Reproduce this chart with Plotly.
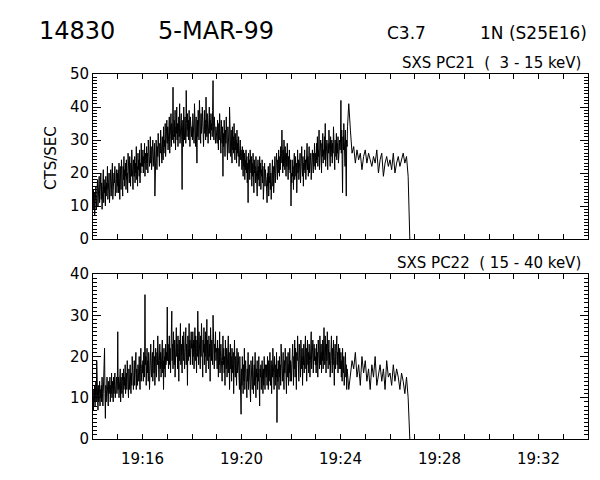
import numpy as np
import pandas as pd
import plotly.graph_objects as go
from plotly.subplots import make_subplots

# ---------------- data ----------------
dense_start = "1999-03-05 19:14:00"   # 1 s cadence
sparse_start = "1999-03-05 19:24:20"  # 4 s cadence
dense_step_s = 1
sparse_step_s = 4

# SXS PC21 (3-15 keV), counts/s, one list per minute of the dense part
pc21_m0 = [11,15,9,14,7,13,10,16,9,15,12,18,10,17,13,19,11,16,14,20,
           12,17,9,15,13,21,11,18,14,16,10,19,13,17,15,22,12,18,14,20,
           11,17,15,21,13,19,16,23,12,18,15,20,17,22,13,19,16,21,14,20]
pc21_m1 = [16,21,14,23,18,12,22,19,15,24,17,20,13,22,18,25,16,21,19,23,
           15,24,18,20,14,26,19,22,17,25,20,16,23,19,27,18,22,15,24,21,
           19,25,17,23,20,28,18,22,16,26,21,24,19,27,17,23,20,29,22,25]
pc21_m2 = [22,27,20,25,23,29,19,26,24,21,28,23,26,20,30,24,27,22,25,31,
           23,28,21,26,24,30,22,27,25,29,13,26,23,30,27,21,28,25,32,24,
           27,22,29,26,33,25,28,23,31,27,24,34,26,30,28,35,25,31,29,36]
pc21_m3 = [29,34,27,32,30,37,26,33,31,38,28,35,30,33,46,32,29,36,31,39,
           27,34,32,40,30,35,28,33,37,31,41,29,34,32,38,30,15,33,36,28,
           40,33,30,37,34,29,45,35,31,38,33,36,30,39,34,28,37,32,35,31]
pc21_m4 = [34,30,38,33,36,29,41,32,35,28,37,33,23,36,31,39,34,30,42,33,
           36,29,38,32,35,40,31,37,28,34,39,32,36,30,43,35,31,38,33,29,
           37,34,40,32,36,30,38,33,35,31,39,48,34,30,37,32,36,29,34,31]
pc21_m5 = [33,29,36,31,27,35,30,38,28,33,26,36,31,29,34,19,32,28,36,30,
           25,33,29,37,27,31,24,34,29,32,26,40,28,31,25,33,30,23,34,27,
           31,26,35,28,24,32,27,30,23,33,26,29,25,31,22,28,26,30,24,27]
pc21_m6 = [25,21,28,23,19,27,22,26,18,24,21,27,20,25,17,23,11,26,21,24,
           18,27,22,20,25,16,23,19,26,21,14,24,20,22,17,25,19,23,13,21,
           24,18,22,16,25,20,23,15,21,19,24,17,22,12,20,18,23,16,21,19]
pc21_m7 = [18,14,11,20,16,22,13,19,17,23,15,20,12,21,18,24,16,22,14,19,
           20,25,17,23,19,26,21,18,24,20,27,22,19,25,21,28,23,26,33,24,
           20,27,22,30,25,21,28,23,19,26,22,29,24,18,25,21,27,23,20,24]
pc21_m8 = [10,20,17,24,19,22,15,23,26,18,21,25,19,23,14,22,27,20,24,18,
           23,21,26,17,24,20,28,22,19,25,16,23,21,27,20,24,18,26,22,29,
           21,25,19,23,28,20,24,22,26,18,25,21,27,23,20,26,22,29,24,21]
pc21_m9 = [26,23,29,24,31,22,27,25,33,21,28,24,30,26,20,29,25,32,23,27,
           26,31,24,35,22,28,25,30,27,21,29,26,33,24,28,22,31,25,27,30,
           23,29,26,34,24,28,21,30,27,25,32,24,29,26,31,23,28,25,30,27]
pc21_m10 = [30,42,26,33,24,14,31,27,35,25,29,22,33,26,13,30,28,34]
pc21_sparse = [41,33,26,28,23,27,24,26,21,25,27,23,26,24,22,25,23,27,20,24,
               26,19,23,25,22,24,21,26,20,23,25,22,24,26,23,25,19,0]

# SXS PC22 (15-40 keV)
pc22_m0 = [10,7,12,9,13,8,11,14,9,19,10,12,7,13,9,11,14,8,12,10,
           13,9,15,11,8,12,10,14,22,11,5,13,9,12,15,10,13,8,14,11,
           12,15,9,13,11,16,10,14,12,9,15,11,13,16,10,14,12,15,11,13]
pc22_m1 = [26,12,15,10,14,12,17,9,15,13,11,16,14,10,17,12,15,13,18,11,
           14,16,12,19,13,15,10,17,14,12,18,15,11,16,13,20,14,17,12,15,
           19,13,16,14,21,12,17,15,13,18,16,14,20,15,12,17,22,14,16,18]
pc22_m2 = [16,19,14,21,17,15,35,18,20,13,17,22,16,19,14,21,18,12,20,16,
           23,17,15,19,21,14,18,24,16,20,13,19,22,17,15,21,18,25,16,20,
           14,19,23,17,21,15,20,18,24,16,19,12,22,17,20,15,23,18,21,19]
pc22_m3 = [32,19,23,17,21,25,18,22,16,24,20,31,19,23,17,26,21,18,24,15,
           22,19,27,20,23,17,25,21,14,24,19,22,28,18,23,20,16,25,21,19,
           26,22,17,24,20,27,18,23,21,13,25,19,22,28,20,24,18,21,26,22]
pc22_m4 = [23,18,26,20,24,17,22,27,19,25,21,16,24,20,31,22,18,26,21,23,
           17,25,20,28,19,22,15,24,21,27,18,23,20,26,16,22,29,19,24,21,
           17,25,20,23,14,27,21,19,24,22,18,30,20,25,17,23,21,26,19,22]
pc22_m5 = [21,17,24,19,15,22,18,26,16,20,23,17,21,14,19,25,18,22,16,20,
           13,24,19,17,22,15,20,18,25,16,21,12,19,23,17,20,14,22,18,16,
           21,11,19,24,17,15,20,18,13,22,16,19,21,15,18,12,20,17,14,6]
pc22_m6 = [17,13,20,15,11,18,14,22,12,16,19,13,15,10,17,14,21,12,16,18,
           13,15,9,19,14,17,12,20,15,11,16,18,13,21,14,10,17,15,19,12,
           16,14,20,13,8,17,15,18,12,16,19,14,11,17,13,20,15,12,18,16]
pc22_m7 = [15,18,13,20,16,12,19,14,17,21,13,16,19,11,18,15,22,14,17,12,
           20,16,13,18,15,21,4,17,14,19,16,12,20,15,18,13,23,16,19,14,
           17,21,15,12,19,16,22,14,18,11,20,17,15,21,13,18,16,22,14,19]
pc22_m8 = [18,14,21,16,23,19,13,20,17,24,15,22,18,12,21,19,25,16,20,14,
           23,18,21,15,24,19,17,22,13,20,18,23,16,21,19,25,17,22,14,20,
           24,18,21,16,23,19,15,22,20,26,17,21,18,24,16,20,23,19,22,18]
pc22_m9 = [20,16,23,18,21,15,24,19,22,17,25,20,18,23,16,21,19,24,17,22,
           27,20,18,25,21,16,23,19,26,20,17,22,24,18,21,15,23,20,25,19,
           16,22,18,24,21,13,20,23,17,22,19,25,18,21,16,23,20,17,22,19]
pc22_m10 = [17,21,15,19,14,22,18,16,20,13,19,17,21,15,18,12,17,16]
pc22_sparse = [12,16,19,17,21,15,18,13,20,16,19,14,17,12,18,15,20,13,16,18,
               14,17,12,19,15,16,13,18,14,17,15,12,16,14,11,15,10,0]

x_range = ["1999-03-05 19:14:00", "1999-03-05 19:34:00"]
x_tick0 = "1999-03-05 19:16:00"

title_num = "14830"
title_date = "5-MAR-99"
title_class = "C3.7"
title_loc = "1N (S25E16)"
label_top = "SXS PC21\u00a0\u00a0(\u00a0\u00a03 - 15 keV)"
label_bot = "SXS PC22\u00a0\u00a0( 15 - 40 keV)"
y_title = "CTS/SEC"


def build(minutes, sparse):
    dense = sum(minutes, [])
    td = pd.Timestamp(dense_start) + pd.to_timedelta(np.arange(len(dense)) * dense_step_s, unit="s")
    ts = pd.Timestamp(sparse_start) + pd.to_timedelta(np.arange(len(sparse)) * sparse_step_s, unit="s")
    return list(td) + list(ts), dense + sparse


x1, y1 = build([pc21_m0, pc21_m1, pc21_m2, pc21_m3, pc21_m4, pc21_m5, pc21_m6,
                pc21_m7, pc21_m8, pc21_m9, pc21_m10], pc21_sparse)
x2, y2 = build([pc22_m0, pc22_m1, pc22_m2, pc22_m3, pc22_m4, pc22_m5, pc22_m6,
                pc22_m7, pc22_m8, pc22_m9, pc22_m10], pc22_sparse)

FONT = "DejaVu Sans"
W, H = 600, 480
LW = 1

fig = make_subplots(rows=2, cols=1)
fig.add_trace(go.Scatter(x=x1, y=y1, mode="lines", line=dict(color="black", width=LW),
                         showlegend=False, hoverinfo="skip"), row=1, col=1)
fig.add_trace(go.Scatter(x=x2, y=y2, mode="lines", line=dict(color="black", width=LW),
                         showlegend=False, hoverinfo="skip"), row=2, col=1)

xdom = [93 / W, 588 / W]
xcommon = dict(type="date", range=x_range, domain=xdom, tick0=x_tick0, dtick=240000,
               ticks="inside", ticklen=5, tickcolor="black", tickwidth=1,
               minor=dict(dtick=60000, tick0=x_range[0], ticks="inside", ticklen=5,
                          tickcolor="black", tickwidth=1, showgrid=False),
               showline=True, linecolor="black", linewidth=1, mirror="ticks",
               showgrid=False, zeroline=False, tickformat="%H:%M", automargin=False,
               tickfont=dict(family=FONT, size=15, color="black"))
fig.update_xaxes(**xcommon, showticklabels=False, row=1, col=1)
fig.update_xaxes(**xcommon, showticklabels=True, ticklabelstandoff=6, row=2, col=1)

ycommon = dict(dtick=10, ticks="inside", ticklen=8, tickcolor="black", tickwidth=1,
               minor=dict(dtick=1, ticks="inside", ticklen=4, tickcolor="black",
                          tickwidth=1, showgrid=False),
               showline=True, linecolor="black", linewidth=1, mirror="ticks",
               showgrid=False, zeroline=False, automargin=False,
               tickfont=dict(family=FONT, size=15, color="black"))
fig.update_yaxes(**ycommon, range=[0, 50], domain=[1 - 239 / H, 1 - 74 / H], row=1, col=1)
fig.update_yaxes(**ycommon, range=[0, 40], domain=[1 - 439 / H, 1 - 274 / H], row=2, col=1)

ann = []
def txt(s, x, y, size, xanchor="left", yanchor="middle", angle=0):
    ann.append(dict(text=s, x=x / W, y=1 - y / H, xref="paper", yref="paper",
                    xanchor=xanchor, yanchor=yanchor, showarrow=False, textangle=angle,
                    font=dict(family=FONT, size=size, color="black")))

txt(title_num, 37, 31, 24)
txt(title_date, 156, 31, 24)
txt(title_class, 385, 33, 17)
txt(title_loc, 589, 33, 17, xanchor="right")
txt(label_top, 583, 74, 15, xanchor="right", yanchor="bottom")
txt(label_bot, 583, 274, 15, xanchor="right", yanchor="bottom")
txt(y_title, 51, 158, 15, xanchor="center", angle=-90)

fig.update_layout(width=W, height=H, margin=dict(l=0, r=0, t=0, b=0, autoexpand=False),
                  plot_bgcolor="white", paper_bgcolor="white", annotations=ann,
                  font=dict(family=FONT, color="black"))

fig.write_html("out.html", config={"displayModeBar": False},
               post_script="document.body.style.margin='0px';document.body.style.overflow='hidden';")
